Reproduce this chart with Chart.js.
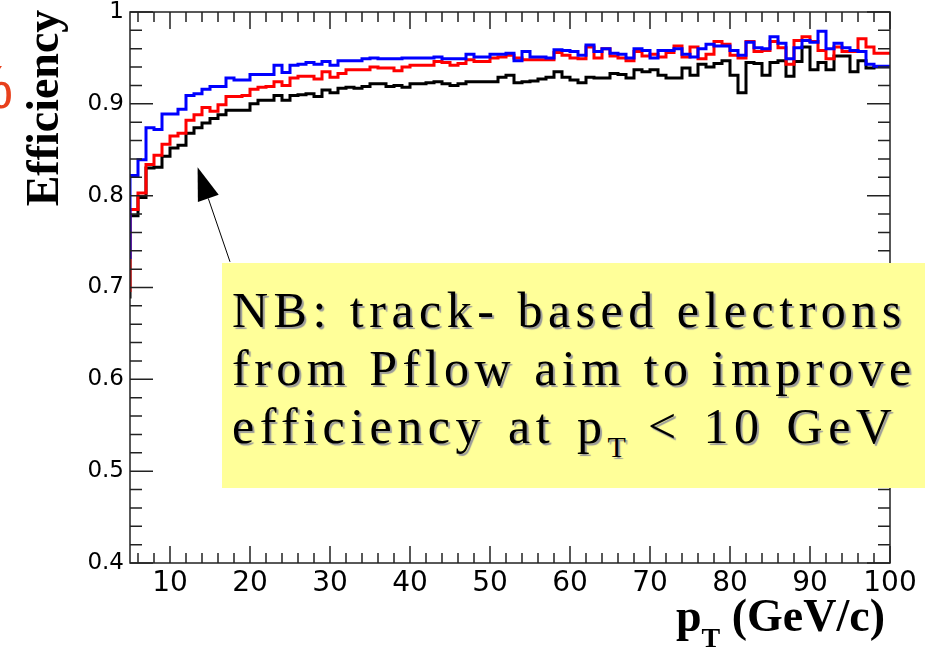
<!DOCTYPE html>
<html>
<head>
<meta charset="utf-8">
<script src="https://cdn.jsdelivr.net/npm/chart.js@4.4.1/dist/chart.umd.min.js"></script>
<style>
html, body { margin: 0; padding: 0; background: #fff; overflow: hidden; }
#wrap { position: relative; width: 925px; height: 651px; overflow: hidden; }
#chart { position: absolute; left: 0; top: 0; }
.note {
    position: absolute; left: 222px; top: 263px; width: 760px; height: 225px;
    background: #ffff99; color: #000; box-sizing: border-box; padding: 18px 0 0 10px;
    font-family: "Liberation Serif", "Times New Roman", serif; font-size: 50px; line-height: 58px;
    letter-spacing: 5.5px; white-space: nowrap; text-shadow: 2px 2px 1px #9a9a9a;
}
.note .wide { word-spacing: 4px; }
.note sub { font-size: 30px; vertical-align: -14px; letter-spacing: 0; }
.ytitle {
    position: absolute; left: 42px; top: 108px; transform: translate(-50%, -50%) rotate(-90deg);
    font-family: "Liberation Serif", serif; font-weight: bold; font-size: 46px; white-space: nowrap;
}
.xtitle {
    position: absolute; right: 40px; top: 589px;
    font-family: "Liberation Serif", serif; font-weight: bold; font-size: 46px; white-space: nowrap;
}
.xtitle sub { font-size: 28px; vertical-align: -16px; }
.pct {
    position: absolute; left: -42px; top: 56px; color: #e8401c; line-height: 1;
    font-family: "Liberation Sans", sans-serif; font-size: 62px;
}
</style>
</head>
<body>
<div id="wrap">
    <canvas id="chart" width="925" height="651"></canvas>
    <div class="pct">%</div>
    <div class="ytitle">Efficiency</div>
    <div class="xtitle">p<sub>T</sub> (GeV/c)</div>
    <div class="note">NB: track- based electrons<br>from Pflow aim to improve<br><span class="wide">efficiency at p<sub>T</sub> &lt; 10 GeV</span></div>
</div>
<script>
// Axis ticks
const xTicks = [10, 20, 30, 40, 50, 60, 70, 80, 90, 100];
const yTicks = [0.4, 0.5, 0.6, 0.7, 0.8, 0.9, 1];
const yTickLabels = ['0.4', '0.5', '0.6', '0.7', '0.8', '0.9', '1'];

// 1 GeV bins from 5 to 100
const ptMin = 5;
const ptMax = 100;
const binEdges = Array.from({length: ptMax - ptMin + 1}, (_, i) => ptMin + i);

// Efficiency per bin
const effBlue = [
    0.731, 0.822, 0.839, 0.874, 0.872, 0.889, 0.889, 0.894, 0.909, 0.911,
    0.916, 0.919, 0.919, 0.928, 0.926, 0.926, 0.932, 0.932, 0.932, 0.942,
    0.934, 0.942, 0.943, 0.945, 0.943, 0.946, 0.942, 0.947, 0.947, 0.947,
    0.949, 0.950, 0.949, 0.949, 0.949, 0.950, 0.950, 0.950, 0.950, 0.951,
    0.949, 0.949, 0.949, 0.954, 0.951, 0.951, 0.954, 0.954, 0.955, 0.947,
    0.957, 0.951, 0.951, 0.950, 0.959, 0.958, 0.957, 0.953, 0.964, 0.957,
    0.960, 0.955, 0.954, 0.950, 0.960, 0.958, 0.950, 0.958, 0.958, 0.960,
    0.954, 0.951, 0.960, 0.965, 0.963, 0.963, 0.958, 0.953, 0.967, 0.961,
    0.960, 0.973, 0.966, 0.949, 0.961, 0.969, 0.967, 0.979, 0.960, 0.966,
    0.961, 0.958, 0.957, 0.943, 0.941
];
const effRed = [
    0.695, 0.785, 0.803, 0.834, 0.844, 0.856, 0.865, 0.868, 0.882, 0.888,
    0.896, 0.892, 0.899, 0.908, 0.908, 0.909, 0.916, 0.918, 0.919, 0.924,
    0.920, 0.928, 0.930, 0.930, 0.927, 0.935, 0.929, 0.933, 0.937, 0.937,
    0.937, 0.940, 0.939, 0.939, 0.936, 0.940, 0.942, 0.942, 0.942, 0.946,
    0.945, 0.942, 0.944, 0.948, 0.946, 0.946, 0.950, 0.951, 0.953, 0.950,
    0.948, 0.948, 0.948, 0.948, 0.956, 0.953, 0.950, 0.949, 0.962, 0.950,
    0.960, 0.952, 0.950, 0.947, 0.957, 0.952, 0.954, 0.951, 0.956, 0.963,
    0.951, 0.962, 0.949, 0.954, 0.968, 0.965, 0.953, 0.950, 0.968, 0.957,
    0.958, 0.968, 0.961, 0.943, 0.969, 0.973, 0.968, 0.958, 0.949, 0.962,
    0.957, 0.957, 0.971, 0.962, 0.955
];
const effBlack = [
    0.688, 0.778, 0.798, 0.830, 0.831, 0.843, 0.852, 0.855, 0.868, 0.874,
    0.879, 0.884, 0.888, 0.893, 0.893, 0.893, 0.900, 0.904, 0.904, 0.909,
    0.904, 0.909, 0.910, 0.911, 0.908, 0.915, 0.912, 0.917, 0.918, 0.917,
    0.919, 0.922, 0.922, 0.919, 0.920, 0.918, 0.922, 0.922, 0.923, 0.924,
    0.922, 0.920, 0.922, 0.924, 0.924, 0.924, 0.924, 0.929, 0.931, 0.923,
    0.924, 0.925, 0.927, 0.929, 0.935, 0.929, 0.926, 0.923, 0.929, 0.928,
    0.928, 0.933, 0.932, 0.928, 0.937, 0.935, 0.937, 0.931, 0.928, 0.928,
    0.939, 0.931, 0.943, 0.940, 0.944, 0.947, 0.931, 0.912, 0.945, 0.944,
    0.931, 0.945, 0.947, 0.930, 0.946, 0.962, 0.937, 0.945, 0.937, 0.952,
    0.952, 0.935, 0.947, 0.939, 0.940
];

// Arrow annotation (data coords): tail -> tip
const arrowTail = {x: 17.5, y: 0.728};
const arrowTip = {x: 13.45, y: 0.831};

// Histogram outline: value of each bin held from its low edge, closed at the last edge
function histPoints(vals) {
    const pts = vals.map((v, i) => ({x: binEdges[i], y: v}));
    pts.push({x: binEdges[vals.length], y: vals[vals.length - 1]});
    return pts;
}

function histDataset(label, vals, color) {
    return {
        label: label,
        data: histPoints(vals),
        borderColor: color,
        borderWidth: 3,
        stepped: 'after',
        pointRadius: 0,
        fill: false
    };
}

// ROOT-like frame: box plus inward ticks on all four sides, and the arrow
const rootFrame = {
    id: 'rootFrame',
    afterDraw(chart) {
        const {ctx, chartArea: a, scales: {x, y}} = chart;
        ctx.save();
        ctx.strokeStyle = '#222';
        ctx.lineWidth = 1.5;
        ctx.strokeRect(a.left, a.top, a.right - a.left, a.bottom - a.top);
        ctx.beginPath();
        for (let v = 6; v <= ptMax; v += 2) {
            const px = x.getPixelForValue(v);
            const len = v % 10 === 0 ? 17 : 10;
            ctx.moveTo(px, a.bottom); ctx.lineTo(px, a.bottom - len);
            ctx.moveTo(px, a.top); ctx.lineTo(px, a.top + len);
        }
        for (let k = 0; k <= 30; k++) {
            const v = 0.4 + k * 0.02;
            const py = y.getPixelForValue(v);
            const len = k % 5 === 0 ? 23 : 12;
            ctx.moveTo(a.left, py); ctx.lineTo(a.left + len, py);
            ctx.moveTo(a.right, py); ctx.lineTo(a.right - len, py);
        }
        ctx.stroke();

        // arrow
        const tx = x.getPixelForValue(arrowTip.x), ty = y.getPixelForValue(arrowTip.y);
        const sx = x.getPixelForValue(arrowTail.x), sy = y.getPixelForValue(arrowTail.y);
        const ang = Math.atan2(ty - sy, tx - sx);
        const headLen = 33, headHalf = 11;
        const bx = tx - headLen * Math.cos(ang), by = ty - headLen * Math.sin(ang);
        ctx.strokeStyle = '#000';
        ctx.lineWidth = 1;
        ctx.beginPath();
        ctx.moveTo(sx, sy); ctx.lineTo(bx, by);
        ctx.stroke();
        ctx.fillStyle = '#000';
        ctx.beginPath();
        ctx.moveTo(tx, ty);
        ctx.lineTo(bx + headHalf * Math.sin(ang), by - headHalf * Math.cos(ang));
        ctx.lineTo(bx - headHalf * Math.sin(ang), by + headHalf * Math.cos(ang));
        ctx.closePath();
        ctx.fill();
        ctx.restore();
    }
};

const ctx = document.getElementById('chart').getContext('2d');
new Chart(ctx, {
    type: 'line',
    data: {
        // dataset 0 is drawn on top
        datasets: [
            histDataset('blue', effBlue, '#0000ff'),
            histDataset('red', effRed, '#ff0000'),
            histDataset('black', effBlack, '#000000')
        ]
    },
    options: {
        responsive: false,
        animation: false,
        layout: { padding: { top: 12, right: 35, left: 0, bottom: 0 } },
        plugins: {
            legend: { display: false },
            tooltip: { enabled: false }
        },
        scales: {
            x: {
                type: 'linear',
                min: ptMin,
                max: ptMax,
                afterBuildTicks: s => { s.ticks = xTicks.map(v => ({value: v})); },
                afterFit: s => { s.height = 88; s.paddingLeft = 0; s.paddingRight = 0; },
                grid: { display: false, drawTicks: false },
                border: { display: false },
                ticks: {
                    padding: 4,
                    color: '#000',
                    maxRotation: 0,
                    font: { family: 'DejaVu Sans', size: 28 }
                }
            },
            y: {
                min: 0.4,
                max: 1,
                afterBuildTicks: s => { s.ticks = yTicks.map(v => ({value: v})); },
                afterFit: s => { s.width = 130; s.paddingTop = 0; s.paddingBottom = 0; },
                grid: { display: false, drawTicks: false },
                border: { display: false },
                ticks: {
                    padding: 6,
                    color: '#000',
                    font: { family: 'DejaVu Sans', size: 23 },
                    callback: v => yTickLabels[yTicks.indexOf(v)]
                }
            }
        }
    },
    plugins: [rootFrame]
});
</script>
</body>
</html>
